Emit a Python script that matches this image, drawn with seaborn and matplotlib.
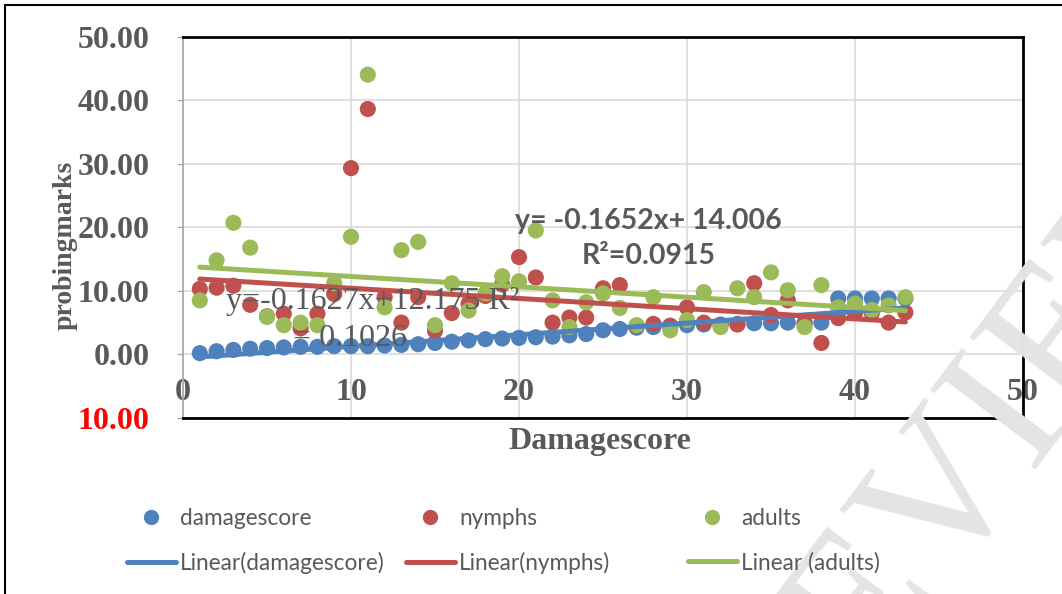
import matplotlib
matplotlib.use("Agg")
import numpy as np
import pandas as pd
import seaborn as sns
import matplotlib.pyplot as plt
from matplotlib.lines import Line2D
from matplotlib.patches import Rectangle

# data
x_vals = list(range(1, 44))
damagescore = [0.2, 0.5, 0.7, 0.9, 1.0, 1.1, 1.2, 1.2, 1.3, 1.3,
               1.3, 1.4, 1.5, 1.6, 1.8, 2.0, 2.2, 2.4, 2.5, 2.6,
               2.7, 2.8, 3.0, 3.2, 3.8, 4.0, 4.2, 4.3, 4.5, 4.6,
               4.7, 4.7, 4.8, 4.9, 4.9, 5.0, 5.0, 5.0, 8.8, 8.8,
               8.8, 8.8, 8.8]
nymphs = [10.3, 10.5, 10.8, 7.8, 6.0, 6.4, 4.1, 6.4, 9.5, 29.3,
          38.6, 9.0, 5.0, 9.0, 3.7, 6.5, 8.0, 9.2, 11.0, 15.3,
          12.1, 5.0, 5.8, 5.8, 10.4, 10.9, 4.5, 4.8, 4.5, 7.4,
          5.0, 4.6, 4.7, 11.2, 6.2, 8.5, 4.8, 1.8, 5.7, 6.5,
          6.5, 5.0, 6.6]
adults = [8.5, 14.8, 20.7, 16.8, 5.9, 4.6, 5.0, 4.6, 11.2, 18.5,
          44.0, 7.4, 16.4, 17.7, 4.6, 11.2, 6.9, 9.6, 12.3, 11.5,
          19.5, 8.5, 4.3, 8.2, 9.6, 7.3, 4.6, 9.0, 3.8, 5.4,
          9.8, 4.3, 10.4, 9.0, 12.9, 10.1, 4.3, 10.9, 7.4, 8.0,
          7.0, 7.7, 9.0]

series_names = ["damagescore", "nymphs", "adults"]
trend_labels = ["Linear(damagescore)", "Linear(nymphs)", "Linear (adults)"]
colors = ["#4f81bd", "#c0504d", "#9bbb59"]
y_ticks = [-10, 0, 10, 20, 30, 40, 50]
x_ticks = [0, 10, 20, 30, 40, 50]

df = pd.DataFrame({"x": x_vals, "damagescore": damagescore,
                   "nymphs": nymphs, "adults": adults})
long_df = df.melt(id_vars="x", var_name="series", value_name="value")

W, H = 1062, 594
gray = "#595959"

sns.set_theme(style="white")
plt.rcParams["font.family"] = ["Liberation Serif", "DejaVu Sans"]

fig = plt.figure(figsize=(W / 100, H / 100), dpi=100)
ax = fig.add_axes([183 / W, 1 - 418 / H, (1023 - 183) / W, (418 - 36.5) / H])
ax.patch.set_alpha(0)

# watermark (cut by the image edge, as in the source)
fig.text(950 / W, 1 - 495 / H, "PREVIEW", fontsize=145, rotation=53,
         color="#e4e4e4", ha="center", va="center", zorder=0,
         family="Liberation Serif")

sns.scatterplot(data=long_df, x="x", y="value", hue="series",
                hue_order=series_names, palette=colors, s=135,
                edgecolor="none", legend=False, ax=ax, zorder=3)

for name, c in zip(series_names, colors):
    sns.regplot(x=df["x"], y=df[name], scatter=False, ci=None, color=c,
                line_kws=dict(lw=3.6, zorder=4), ax=ax)

ax.set_xlim(0, 50)
ax.set_ylim(-10, 50)
ax.set_xlabel("")
ax.set_ylabel("")
ax.set_xticks(x_ticks)
ax.set_xticklabels([str(v) for v in x_ticks])
ax.set_yticks(y_ticks)
ax.set_yticklabels([f"{abs(v):.2f}" for v in y_ticks])
ax.grid(True, color="#d9d9d9", lw=1.2, zorder=0)

ax.tick_params(axis="x", length=0, pad=-29, labelsize=23, labelcolor=gray)
ax.tick_params(axis="y", length=4, width=1, color="#a6a6a6", pad=20,
               labelsize=23, labelcolor=gray, left=True)
for lab in ax.get_xticklabels() + ax.get_yticklabels():
    lab.set_fontweight("bold")
ax.get_yticklabels()[0].set_color("red")

for side in ["top", "right", "bottom"]:
    ax.spines[side].set_color("black")
    ax.spines[side].set_linewidth(2)
ax.spines["left"].set_color("#a6a6a6")
ax.spines["left"].set_linewidth(1.2)

# axis titles
fig.text(600 / W, 1 - 441 / H, "Damagescore", fontsize=23, fontweight="bold",
         color=gray, ha="center", va="center")
fig.text(65 / W, 1 - 245 / H, "probingmarks", fontsize=20, fontweight="bold",
         color=gray, ha="center", va="center", rotation=90)

# trendline equations
fig.text(373 / W, 1 - 301 / H, "y=-0.1627x+12.175 R²", fontsize=23,
         color=gray, ha="center", va="center", zorder=5)
fig.text(350 / W, 1 - 338 / H, "= 0.1026", fontsize=23,
         color=gray, ha="center", va="center", zorder=5)
fig.text(648 / W, 1 - 221 / H, "y= -0.1652x+ 14.006", fontsize=20.5,
         fontweight="bold", color=gray, ha="center", va="center",
         family="Lato", zorder=5)
fig.text(649 / W, 1 - 256 / H, "R²=0.0915", fontsize=20.5,
         fontweight="bold", color=gray, ha="center", va="center",
         family="Lato", zorder=5)

# legend, one block per series
legend_x = [127, 406, 688]
for name, tl, c, lx in zip(series_names, trend_labels, colors, legend_x):
    handles = [Line2D([], [], ls="none", marker="o", ms=11, color=c, mec="none"),
               Line2D([], [], lw=3.6, color=c)]
    leg = fig.legend(handles, [name, tl], loc="upper left",
                     bbox_to_anchor=(lx / W, 1 - 508 / H), frameon=False,
                     borderpad=0, borderaxespad=0, handlelength=2.15,
                     handletextpad=0.2, labelspacing=1.0,
                     prop={"family": "Lato", "size": 16.3})
    for t in leg.get_texts():
        t.set_color(gray)

# outer chart border
fig.patches.append(Rectangle((5 / W, -0.1), 1.2, 1.1 - 5 / H,
                             transform=fig.transFigure, fill=False,
                             ec="black", lw=1.5))

fig.savefig("out.png", dpi=100)
